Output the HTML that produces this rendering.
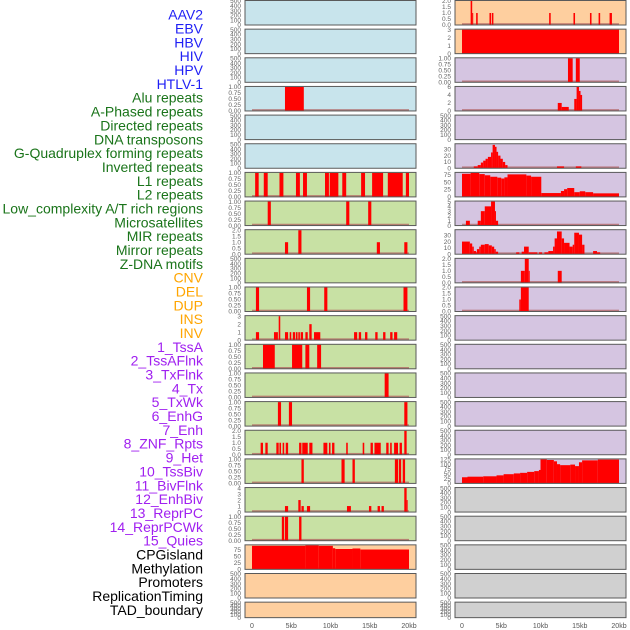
<!DOCTYPE html>
<html><head><meta charset="utf-8"><style>
html,body{margin:0;padding:0;background:#fff;width:630px;height:630px;overflow:hidden}
svg{display:block;font-family:"Liberation Sans",sans-serif}
</style></head><body>
<svg id="chart" width="630" height="630" viewBox="0 0 630 630" xmlns="http://www.w3.org/2000/svg"></svg>
<script>
// ---- labels ----
const labelNames = ["AAV2","EBV","HBV","HIV","HPV","HTLV-1","Alu repeats","A-Phased repeats","Directed repeats","DNA transposons","G-Quadruplex forming repeats","Inverted repeats","L1 repeats","L2 repeats","Low_complexity A/T rich regions","Microsatellites","MIR repeats","Mirror repeats","Z-DNA motifs","CNV","DEL","DUP","INS","INV","1_TssA","2_TssAFlnk","3_TxFlnk","4_Tx","5_TxWk","6_EnhG","7_Enh","8_ZNF_Rpts","9_Het","10_TssBiv","11_BivFlnk","12_EnhBiv","13_ReprPC","14_ReprPCWk","15_Quies","CPGisland","Methylation","Promoters","ReplicationTiming","TAD_boundary"];
const labelGroups = [0,0,0,0,0,0,1,1,1,1,1,1,1,1,1,1,1,1,1,2,2,2,2,2,3,3,3,3,3,3,3,3,3,3,3,3,3,3,3,4,4,4,4,4];
const groupText = ["#1f1ff5","#1a741a","#ffa500","#a020f0","#000000"];
const groupBg = ["#c8e4ec","#c8e1a4","#fecf9f","#d5c5e1","#d0d0d0"];
// right column backgrounds use same groups except last-group grey
// ---- x axis ----
const xTickValues = [0,5,10,15,20];
const xTickLabels = ["0","5kb","10kb","15kb","20kb"];
// ---- series: [startKb, endKb, value] ----
const sHIV = [[4.2,6.6,1]];
const sAlu = [[0.4,0.85,1],[1.5,2.0,1],[3.5,4.0,1],[5.6,6.1,1],[6.5,7.0,1],[9.3,9.8,1],[9.9,11.0,1],[11.5,12.0,1],[13.9,14.4,1],[15.3,16.7,1],[17.3,19.2,1],[19.6,20,1]];
const sAPhased = [[2.0,2.4,1],[12.0,12.4,1],[14.8,15.2,1]];
const sDirected = [[4.2,4.6,1],[5.9,6.3,2],[15.9,16.3,1],[19.4,19.8,1]];
const sGQuad = [[0.5,0.9,1],[7.0,7.4,1],[9.2,9.6,1],[19.3,19.8,1]];
const sInverted = [[0.5,0.9,1],[2.8,3.3,1],[3.4,3.6,3],[4.2,4.6,1],[4.8,5.0,1],[5.2,5.5,1],[5.6,5.8,1],[5.9,6.1,1],[6.2,6.5,1],[6.8,7.1,1],[7.3,7.6,2],[7.9,8.7,1],[13.0,13.4,1],[13.6,13.9,1],[14.4,14.7,1],[15.7,16.0,1],[16.7,17.0,1],[17.6,17.9,1],[18.1,18.5,1]];
const sL1 = [[1.4,2.9,1],[5.1,6.4,1],[6.8,7.3,1],[8.3,8.8,1]];
const sL2 = [[16.9,17.4,1]];
const sLowC = [[3.3,3.7,1],[4.7,5.1,1],[19.4,19.8,1]];
const sMicro = [[1.1,1.4,1],[1.7,2.0,1],[3.1,3.4,1],[3.5,3.7,1],[3.9,4.1,1],[4.3,4.6,1],[6.0,6.3,1],[6.4,7.1,1],[7.3,7.7,1],[9.1,9.6,1],[9.8,10.0,1],[10.2,10.5,1],[12.0,12.2,1],[14.1,14.3,1],[15.1,15.4,1],[15.6,16.4,1],[17.1,17.4,1],[17.6,17.8,1],[18.1,18.6,1],[18.8,19.1,1],[19.4,19.7,2]];
const sMIR = [[6.3,6.6,1],[11.4,11.8,1],[12.8,13.1,1],[18.2,18.6,1],[18.7,19.0,1],[19.2,19.5,1]];
const sMirror = [[4.2,4.6,1],[5.9,6.2,2],[6.3,6.6,1],[7.0,7.4,1],[12.1,12.6,1],[14.9,15.2,1],[16.0,16.3,1],[16.5,16.8,1],[19.4,19.7,4],[19.7,19.8,2]];
const sZDNA = [[3.8,4.1,1],[4.2,4.6,1],[6.0,6.3,1]];
const sCNV = [[0,6.8,90],[6.8,8.5,92],[8.5,10.3,90],[10.3,10.6,81],[10.6,12.8,78],[12.8,13.8,80],[13.8,20,76]];
const sINS = [[1.1,1.3,2],[1.3,1.4,1],[1.8,2.0,1],[3.5,3.7,1],[3.8,4.0,1],[11.1,11.3,1],[14.2,14.4,1],[16.3,16.5,1],[17.4,17.6,1],[18.8,19.1,1]];
const sINV = [[0,20,3]];
const sTssA = [[13.5,14.1,1],[14.5,15.0,1]];
const sTssAFlnk = [[12.2,12.7,2],[12.7,13.6,1],[14.3,14.6,3],[14.6,14.9,6],[14.9,15.1,5],[15.1,15.3,4]];
const sTx = [[1.5,2.0,3],[2.0,2.4,5],[2.4,2.7,9],[2.7,3.0,12],[3.0,3.3,15],[3.3,3.7,18],[3.7,3.9,25],[3.9,4.2,37],[4.2,4.4,34],[4.4,4.6,26],[4.6,4.9,20],[4.9,5.2,15],[5.2,5.5,10],[5.5,5.8,5],[12.1,13.0,3],[14.5,15.2,3]];
const sTxWk = [[0,1.1,78],[1.1,2.2,81],[2.2,2.9,77],[2.9,3.6,73],[3.6,4.5,68],[4.5,5.0,65],[5.0,5.4,62],[5.4,5.8,66],[5.8,8.2,76],[8.2,8.8,72],[8.8,10.1,68],[10.1,12.6,13],[12.6,13.0,20],[13.0,13.4,26],[13.4,14.3,30],[14.3,15.0,16],[15.0,15.7,19],[15.7,16.7,16],[16.7,20,12]];
const sEnhG = [[0.5,1.0,1],[2.0,2.4,1],[2.4,2.9,3],[2.9,3.7,4],[3.7,4.2,5],[4.2,4.3,3],[4.3,4.6,1]];
const sEnh = [[0,1.0,20],[1.0,1.3,17],[1.3,1.5,12],[1.5,1.8,5],[1.8,1.9,3],[1.9,2.2,8],[2.2,2.4,12],[2.4,2.9,15],[2.9,3.4,16],[3.4,3.8,14],[3.8,4.1,12],[4.1,4.3,8],[4.3,4.6,4],[6.9,7.3,3],[7.6,7.9,4],[7.9,8.5,12],[8.5,9.6,3],[9.8,10.2,3],[10.5,11.0,3],[11.0,11.6,5],[11.6,11.8,12],[11.8,12.1,25],[12.1,12.7,36],[12.7,13.0,25],[13.0,13.7,18],[13.7,14.1,12],[14.1,14.3,15],[14.3,14.9,34],[14.9,15.3,31],[15.3,15.6,15],[16.7,17.2,5],[17.2,17.6,3]];
const sZNF = [[7.5,8.0,1],[8.0,8.5,2],[8.5,8.6,1],[12.2,12.7,1]];
const sHet = [[7.3,7.5,1],[7.5,8.5,2]];
const sQuies = [[0,0.7,32],[0.7,2.7,35],[2.7,4.4,37],[4.4,5.3,42],[5.3,6.6,48],[6.6,7.4,52],[7.4,8.3,55],[8.3,9.2,60],[9.2,9.8,64],[9.8,10.0,70],[10.0,10.8,125],[10.8,11.7,122],[11.7,12.1,115],[12.1,12.5,100],[12.5,13.8,95],[13.8,14.4,98],[14.4,14.9,90],[14.9,15.3,110],[15.3,17.3,120],[17.3,20,124]];
// per-panel series + y max + y ticks, in label order
const panelSeries = [null,null,null,sHIV,null,null,sAlu,sAPhased,sDirected,null,sGQuad,sInverted,sL1,sL2,sLowC,sMicro,sMIR,sMirror,sZDNA,sCNV,null,null,
  sINS,sINV,sTssA,sTssAFlnk,null,sTx,sTxWk,sEnhG,sEnh,sZNF,sHet,null,null,null,null,null,sQuies,null,null,null,null,null];
const panelYMax = [500,500,500,1,500,500,1,1,2,500,1,3,1,1,1,2,1,4,1,92,500,500,
  2,3,1,6,500,38,81,5,38,2,2,500,500,500,500,500,125,500,500,500,500,500];
const ticksEmpty = ["0","100","200","300","400","500"];
const ticksUnit = ["0.00","0.25","0.50","0.75","1.00"];
const ticksTwo = ["0.0","0.5","1.0","1.5","2.0"];
const ticksThree = ["0","1","2","3"];
const ticksFour = ["0","1","2","3","4"];
const ticksFive = ["0","1","2","3","4","5"];
const ticksSix = ["0","2","4","6"];
const ticksThirty = ["0","10","20","30"];
const ticksSeventyFive = ["0","25","50","75"];
const ticksQuies = ["0","25","50","75","100","125"];
const ticksINV = ["0","1","2","3"];
const panelTicks = [ticksEmpty,ticksEmpty,ticksEmpty,ticksUnit,ticksEmpty,ticksEmpty,ticksUnit,ticksUnit,ticksTwo,ticksEmpty,ticksUnit,ticksThree,ticksUnit,ticksUnit,ticksUnit,ticksTwo,ticksUnit,ticksFour,ticksUnit,ticksSeventyFive,ticksEmpty,ticksEmpty,
  ticksTwo,ticksINV,ticksUnit,ticksSix,ticksEmpty,ticksThirty,ticksSeventyFive,ticksFive,ticksThirty,ticksTwo,ticksTwo,ticksEmpty,ticksEmpty,ticksEmpty,ticksEmpty,ticksEmpty,ticksQuies,ticksEmpty,ticksEmpty,ticksEmpty,ticksEmpty,ticksEmpty];

const NS = "http://www.w3.org/2000/svg";
const svg = document.getElementById("chart");
function mk(tag, attrs, parent){const e=document.createElementNS(NS,tag);for(const k in attrs)e.setAttribute(k,attrs[k]);(parent||svg).appendChild(e);return e;}
function slug(s){return s.toLowerCase().replace(/[^a-z0-9]+/g,"-").replace(/^-|-$/g,"");}

// labels
labelNames.forEach((n,i)=>{
  const t = mk("text",{x:203,y:19.7+i*13.84,"text-anchor":"end","font-size":"14",fill:groupText[labelGroups[i]]});
  t.textContent = n;
  
  
});

const colX = [[245,416,252],[455,626,462]];
const kbPx = 7.85;
function xScale(col, kb){return colX[col][2] + kb*kbPx;}

panelSeries.forEach((series,i)=>{
  const col = i<22?0:1, row = i%22;
  const top = 0.5 + row*28.65;
  const h = row===21 ? 15.5 : 24.5;
  const bottom = top + h;
  const ymax = panelYMax[i];
  const yScale = v => bottom - Math.min(v,ymax)/ymax*(h-0.5);
  const g = mk("g",{});
  
  
  const bg = mk("rect",{x:colX[col][0],y:top,width:colX[col][1]-colX[col][0],height:h,fill:groupBg[labelGroups[i]]},g);
  
  
  if(series){
    const base = mk("rect",{x:xScale(col,0),y:bottom-1.8,width:20*kbPx,height:1.8,fill:"#b06060",opacity:"0.75"},g);
    
    
    series.forEach(seg=>{
      const x1=xScale(col,seg[0]), x2=xScale(col,seg[1]), y=yScale(seg[2]);
      const b = mk("rect",{x:x1,y:y,width:Math.max(x2-x1,1),height:bottom-y,fill:"#ff0000"},g);
      
      
    });
  }
  mk("rect",{x:colX[col][0],y:top,width:colX[col][1]-colX[col][0],height:h,fill:"none",stroke:"#5a5a5a","stroke-width":"1"},g);
  const ticks = panelTicks[i];
  ticks.forEach(lbl=>{
    const v = parseFloat(lbl);
    const ty = bottom - v/ymax*(h-0.5);
    const t = mk("text",{x:colX[col][0]-4,y:ty+2.2,"text-anchor":"end","font-size":"6.5",fill:"#666"},g);
    t.textContent = lbl;
    
    
  });
});

// x axes
[0,1].forEach(col=>{
  xTickValues.forEach((v,j)=>{
    const t = mk("text",{x:xScale(col,v),y:628,"text-anchor":"middle","font-size":"7",fill:"#555"});
    t.textContent = xTickLabels[j];
    
    
  });
});
</script>
</body></html>
